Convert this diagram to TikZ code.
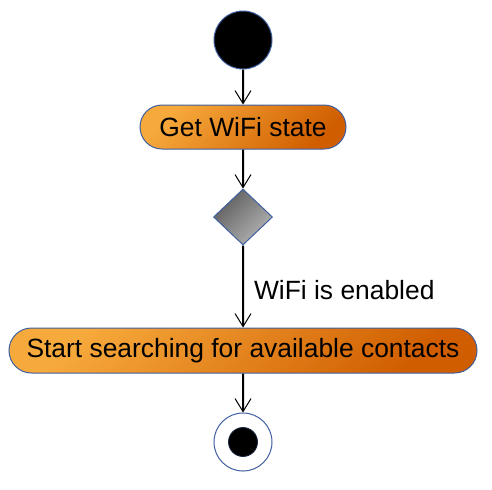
\documentclass[tikz,border=0pt]{standalone}
\usepackage{fontspec}
\setmainfont{Liberation Sans}
\usetikzlibrary{arrows.meta,positioning,shapes}
\definecolor{lightorange}{HTML}{F7AA3C}
\definecolor{darkorange}{HTML}{D05E00}
\definecolor{darkgrey}{HTML}{5E5E5E}
\definecolor{lightgrey}{HTML}{B4B4B4}
\definecolor{rim}{HTML}{3F5F9F}

\begin{document}
\begin{tikzpicture}[% List of styles applied to all, to override specify on a case-by-case
			every node/.style={
				align=center,		% text stays in the middle of the shape
				inner sep=0pt,		% sizes come from minimum width/height
				font=\fontsize{13.2}{16}\selectfont
			},
			every edge/.style={draw,line width=1pt,-{Straight Barb[length=6.5pt,width=8pt,line width=0.5pt]}},
			action/.style={rounded rectangle,draw=rim,line width=0.5pt,top color=lightorange,bottom color=darkorange,shading angle=45,minimum height=22pt}
		]
		\useasboundingbox (-121.5pt,20pt) rectangle (124.5pt,-224.5pt);
		\node[circle,draw=rim,line width=0.5pt,fill=black,minimum size=29pt](R1) at (0,0){};
		\node[action,minimum width=103pt](R2)[below=17.5pt of R1]{Get WiFi state};
		\node[diamond,draw=rim,line width=0.5pt,top color=darkgrey,bottom color=lightgrey,shading angle=45,minimum width=29.5pt,minimum height=28pt](R3)[below=19.5pt of R2]{};
		\node[action,minimum width=234pt,minimum height=22.5pt](R4)[below=41pt of R3]{Start searching for available contacts};
		\node[circle,draw=rim,line width=0.5pt,fill=white,minimum size=29pt](R5)[below=19.5pt of R4]{};
		\node[circle,draw=rim!40!black,line width=0.4pt,fill=black,minimum size=14.5pt](R6) at (R5){};
		\path
		(R1)edge []	node [] {} (R2)
		(R2)edge []	node [] {} (R3)
		(R3)edge []	node [anchor=west,xshift=5pt,yshift=-2pt] {WiFi is enabled} (R4)
		(R4)edge []	node [] {} (R5)
		;
	\end{tikzpicture}
\end{document}
